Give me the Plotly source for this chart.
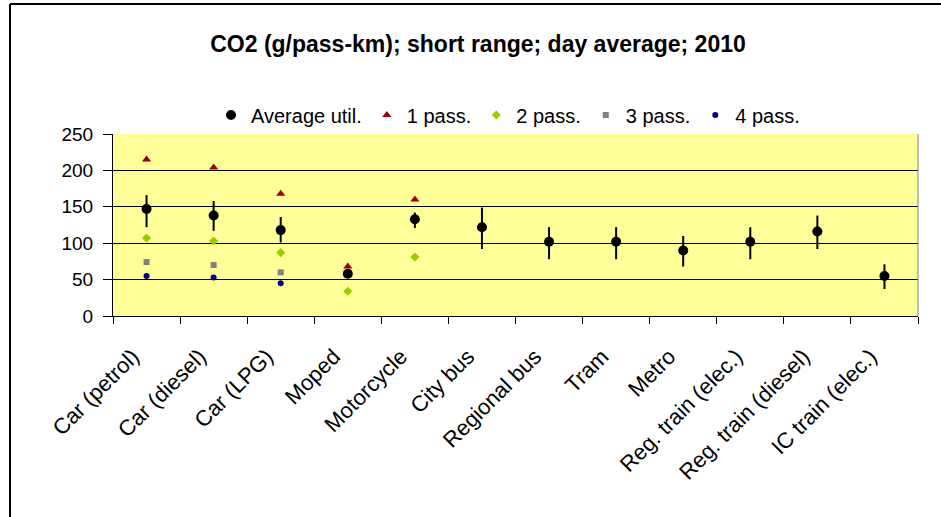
import plotly.graph_objects as go

# ---------------- Data ----------------
modes = ["Car (petrol)", "Car (diesel)", "Car (LPG)", "Moped", "Motorcycle", "City bus",
         "Regional bus", "Tram", "Metro", "Reg. train (elec.)", "Reg. train (diesel)",
         "IC train (elec.)"]
avg_util = [147, 138, 118, 58, 133, 122, 102, 102, 90, 102, 116, 55]
avg_high = [166, 158, 136, 63, 142, 149, 122, 122, 110, 122, 138, 71]
avg_low = [122, 117, 101, 52, 121, 92, 78, 78, 68, 78, 92, 37]
pass1 = [215, 204, 168, 68, 160, None, None, None, None, None, None, None]
pass2 = [107, 103, 87, 34, 81, None, None, None, None, None, None, None]
pass3 = [74, 70, 60, None, None, None, None, None, None, None, None, None]
pass4 = [55, 53, 45, None, None, None, None, None, None, None, None, None]

FONT = "Liberation Sans, Arial, sans-serif"

fig = go.Figure()

# ---------------- Average with range ----------------
fig.add_trace(go.Scatter(
    x=modes, y=avg_util, mode="markers", name="Average util.",
    marker=dict(symbol="circle", size=10, color="black"),
    error_y=dict(type="data", symmetric=False,
                 array=[h - a for h, a in zip(avg_high, avg_util)],
                 arrayminus=[a - l for a, l in zip(avg_util, avg_low)],
                 color="black", thickness=2, width=0),
))

# ---------------- Occupancy series ----------------
series = [
    ("1 pass.", pass1, "triangle-up", 8, "#990000"),
    ("2 pass.", pass2, "diamond", 7, "#99CC00"),
    ("3 pass.", pass3, "square", 6, "#808080"),
    ("4 pass.", pass4, "circle", 6, "#000080"),
]
for name, vals, sym, size, col in series:
    fig.add_trace(go.Scatter(
        x=modes, y=vals, mode="markers", name=name,
        marker=dict(symbol=sym, size=size, color=col),
    ))

fig.update_layout(
    width=941, height=517,
    margin=dict(l=113, r=23, t=134, b=201),
    paper_bgcolor="white", plot_bgcolor="#FFFF99",
    font=dict(family=FONT, size=20, color="black"),
    title=dict(text="<b>CO2 (g/pass-km); short range; day average; 2010</b>",
               x=478 / 941, xanchor="center", y=1 - 44 / 517, yanchor="middle",
               font=dict(size=23, family=FONT)),
    legend=dict(orientation="h", x=(508 - 113) / 805, xanchor="center",
                y=(316 - 115) / 182, yanchor="middle",
                font=dict(size=20), itemwidth=30, tracegroupgap=0,
                bgcolor="rgba(0,0,0,0)"),
    showlegend=True,
)

fig.update_xaxes(
    type="category", tickangle=-45, showgrid=False,
    showline=True, linecolor="black", linewidth=1,
    ticks="outside", tickson="boundaries", ticklen=7, tickcolor="black",
    tickfont=dict(size=22), ticklabelstandoff=18, ticklabelshift=-14,
    range=[-0.5, 11.5],
)
fig.update_yaxes(
    range=[0, 250], dtick=50, showgrid=True, gridcolor="black", gridwidth=1,
    showline=True, linecolor="black", linewidth=1,
    ticks="outside", ticklen=9, tickcolor="black", tickfont=dict(size=19),
    ticklabelstandoff=6, zeroline=False,
)

# right edge of the plot area
fig.add_shape(type="line", xref="paper", yref="paper", x0=1, x1=1, y0=0, y1=1,
              line=dict(color="#808080", width=1))
# outer chart frame (top and left edges visible)
fig.add_shape(type="line", xref="paper", yref="paper",
              x0=(10 - 113) / 805, x1=(945 - 113) / 805,
              y0=(316 - 4) / 182, y1=(316 - 4) / 182,
              line=dict(color="black", width=2))
fig.add_shape(type="line", xref="paper", yref="paper",
              x0=(10 - 113) / 805, x1=(10 - 113) / 805,
              y0=(316 - 4) / 182, y1=(316 - 520) / 182,
              line=dict(color="black", width=2))

fig.write_html("out.html", config={"displayModeBar": False},
               post_script="document.body.style.margin='0';")
